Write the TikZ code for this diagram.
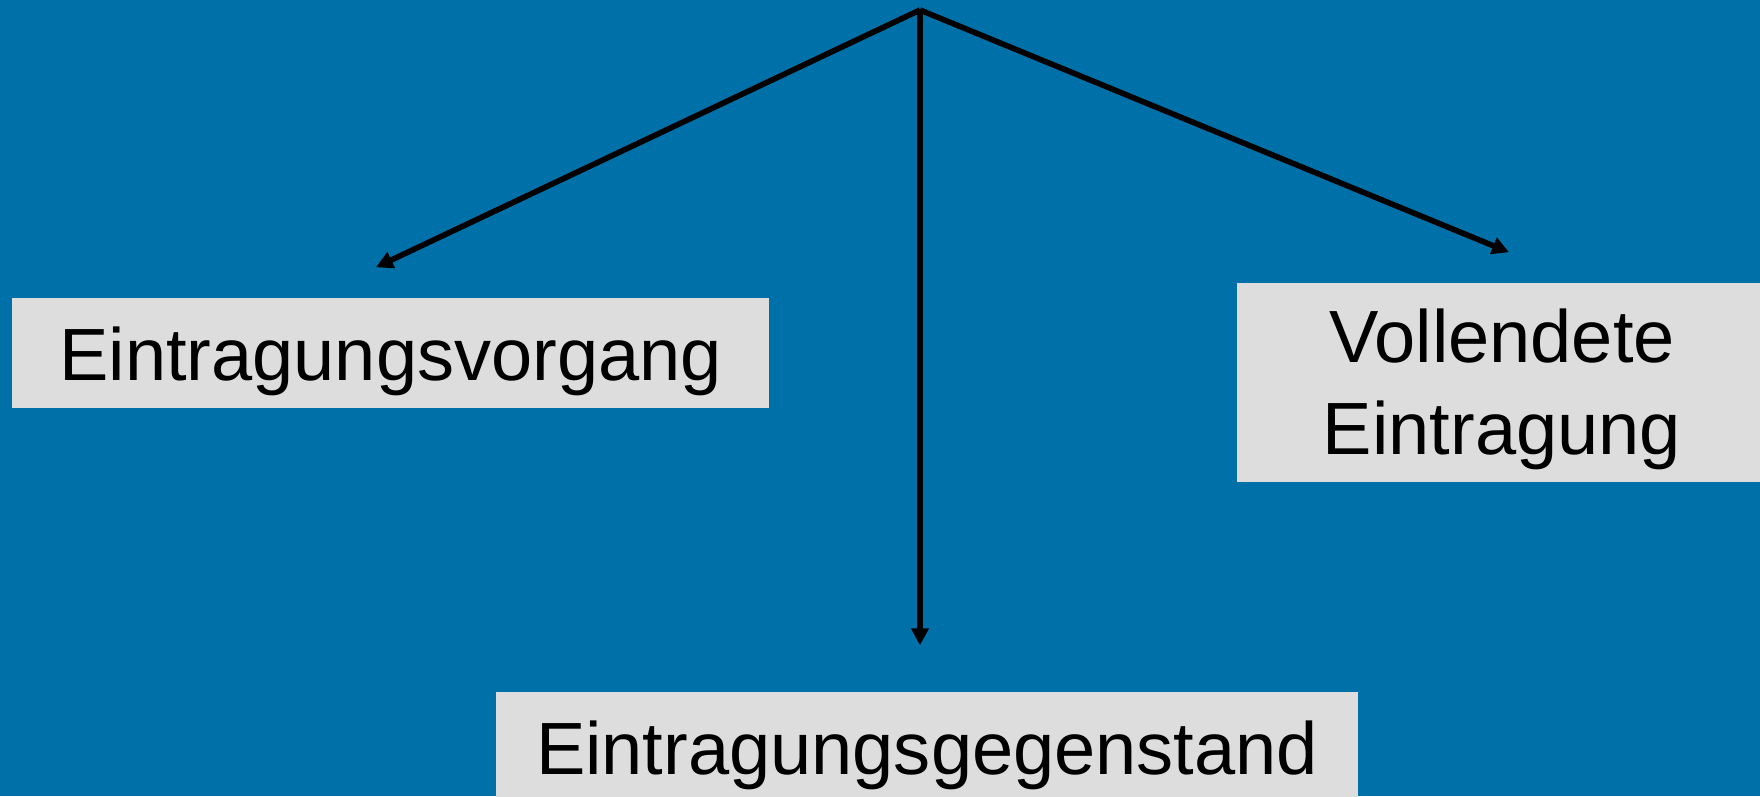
\documentclass[tikz,border=0pt]{standalone}
\usepackage{fontspec}
\setmainfont{Liberation Sans}
\definecolor{slideblue}{HTML}{0070A8}
\definecolor{boxgray}{HTML}{DDDDDD}
\usetikzlibrary{arrows.meta, positioning}

\begin{document}
\begin{tikzpicture}[x=0.01cm, y=-0.01cm,
	box/.style={fill=boxgray, inner sep=0pt, align=center, font=\fontsize{21.05pt}{26.2pt}\selectfont},
	oneline/.style={text height=15.9pt, text depth=0pt},
	pointer/.style={line width=1.6pt, -{Triangle[length=4.8pt, width=4.8pt]}}]
	\clip (0,0) rectangle (1760,796);
	\fill[slideblue] (0,0) rectangle (1760,796);
	% the three boxes
	\node[box, oneline, minimum width=7.57cm, minimum height=1.10cm] (vorgang) at (390.5, 353) {Eintragungsvorgang};
	\node[box, minimum width=5.30cm, minimum height=1.99cm] (vollendet) at (1502, 382.5) {\rule{0pt}{19pt}Vollendete\\Eintragung};
	\node[box, oneline, minimum width=8.62cm, minimum height=1.10cm] (gegenstand) at (927, 747) {Eintragungsgegenstand};
	% arrows from the common point
	\coordinate (top) at (920, 10);
	\coordinate (tipvorgang) at ([xshift=-0.145cm, yshift=0.30cm]vorgang.north);
	\coordinate (tipvollendet) at ([xshift=0.07cm, yshift=0.30cm]vollendet.north);
	\coordinate (tipgegenstand) at ([xshift=-0.07cm, yshift=0.46cm]gegenstand.north);
		\foreach \t in {tipvorgang, tipvollendet, tipgegenstand}
			\draw[pointer] (top) -- (\t);
\end{tikzpicture}
\end{document}
